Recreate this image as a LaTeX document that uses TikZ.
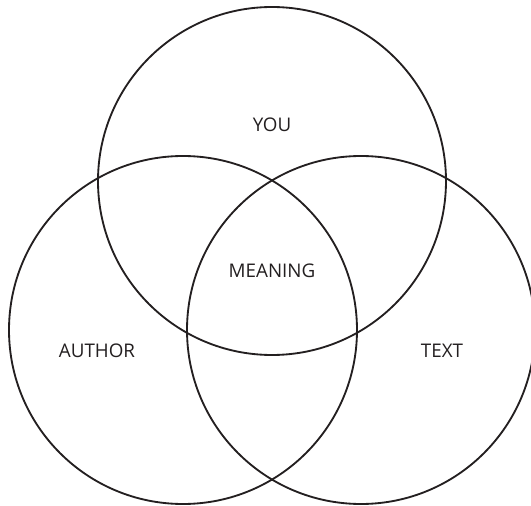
\documentclass[tikz,border=0pt]{standalone}
\usepackage{fontspec}
\setmainfont{Open Sans}
\definecolor{ink}{HTML}{231F20}

\begin{document}
\begin{tikzpicture}[x=0.02cm,y=-0.02cm,line join=round,line cap=round,
  ring/.style={draw=ink,line width=1.05pt},
  lbl/.style={font=\fontsize{10.7}{12}\selectfont,text=ink}]
  \useasboundingbox (0,0) rectangle (531,506);
  \clip (0,0) rectangle (531,506);

  % ===== the three circles =====
  \draw[ring] (272,181) circle (174);   % you
  \draw[ring] (183,330) circle (174);   % author
  \draw[ring] (361,330) circle (174);   % text

  % ===== labels =====
  \node[lbl] (you) at (272,125) {YOU};
  \node[lbl] (meaning) at (272,271) {MEANING};
  \node[lbl] (author) at (97,351) {AUTHOR};
  \node[lbl] (text) at (442,351) {TEXT};
\end{tikzpicture}
\end{document}
